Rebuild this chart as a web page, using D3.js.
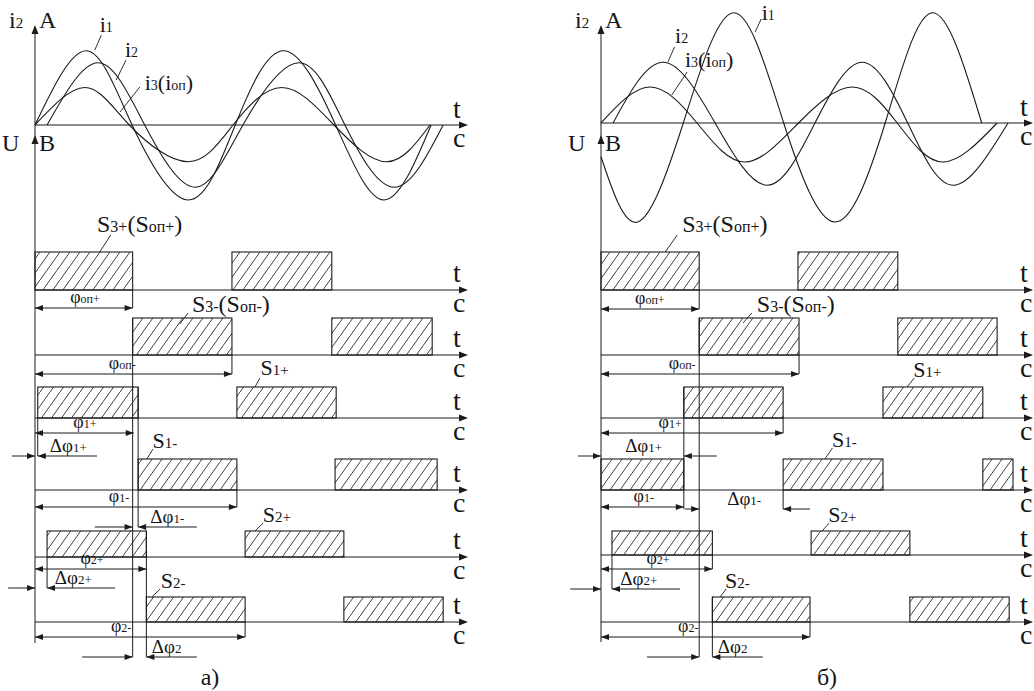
<!DOCTYPE html>
<html>
<head>
<meta charset="utf-8">
<script src="https://cdn.jsdelivr.net/npm/d3@7"></script>
<style>
body{margin:0;background:#fff}
svg{display:block}
</style>
</head>
<body>
<svg id="chart" width="1034" height="691"></svg>
<script>
// ---- data (angles in electrical degrees, currents in relative units) ----
const captions = ["а)", "б)"];

// currents: [angle, value]
const i1A = [[0,0],[93,0.99],[177,0],[280,-1.0],[365,0],[453,0.99],[548,0],[636,-1.0],[722,0]];
const i2A = [[22,0],[115,0.83],[200,0],[292,-0.83],[379,0],[481,0.83],[565,0],[655,-0.83],[744,0]];
const i3A = [[0,0],[91,0.5],[172,0],[279,-0.49],[361,0],[450,0.5],[545,0],[641,-0.49],[720,0]];
const i1B = [[0,-0.45],[67,-1.32],[150,0],[242,1.47],[333,0],[427,-1.32],[518,0],[604,1.47],[694,0]];
const i2B = [[22,0],[113,0.81],[208,0],[303,-0.83],[390,0],[476,0.81],[559,0],[642,-0.83],[742,0]];
const i3B = [[0,0],[89,0.48],[175,0],[262,-0.52],[360,0],[458,0.48],[540,0],[623,-0.52],[722,0]];

// switch pulses per row: S3+, S3-, S1+, S1-, S2+, S2-
const pulsesA = [
  [[0,178],[359,541]],
  [[178,359],[541,724]],
  [[5,188],[368,549]],
  [[188,368],[547,733]],
  [[22,203],[383,563]],
  [[203,383],[563,744]]
];
const pulsesB = [
  [[0,179],[359,541]],
  [[179,361],[541,722]],
  [[151,332],[514,696]],
  [[0,151],[332,514],[696,751]],
  [[20,203],[383,563]],
  [[203,381],[563,744]]
];

// phase spans [sub, from, to]
const phiA = [["оп+",0,178],["оп-",0,359],["1+",0,180],["1-",0,368],["2+",0,203],["2-",0,383]];
const phiB = [["оп+",0,179],["оп-",0,361],["1+",0,332],["1-",0,151],["2+",0,203],["2-",0,381]];
// phase differences [sub, from, to]
const dphiA = [["1+",0,5],["1-",178,188],["2+",0,22],["2",178,203]];
const dphiB = [["1+",0,151],["1-",179,332],["2+",0,20],["2",179,203]];

// ---- layout ----
const layoutA = {x0:35, xEnd:468, zeroY:125, axisBottom:643, tX:453, captionX:210,
  rows:[290,355,418,490,557,622], heights:[38,37,31,31,26,25],
  spanY:[308,374,433,507,569,637], spanLx:[91,159,91,153,104,157],
  deltaY:[456,527,588,657], tails:[[-42,113],[109,295],[-49,146],[86,295]], deltaLx:[27,210,36,213],
  guides:[[178,290,308],[178,318,657],[188,387,527],[203,531,657],[5,418,456],[22,557,588],[359,355,374],[368,490,507],[383,622,637]],
  notes:[
    {p:[["i",22],["1",14]], at:[118,32], ld:[109,50,121,35]},
    {p:[["i",22],["2",14]], at:[164,57], ld:[148,80,166,60]},
    {p:[["i",22],["3",14],["(",22],["i",22],["оп",14],[")",22]], at:[200,90], ld:[155,112,191,87]},
    {p:[["S",24],["3+",16],["(",24],["S",24],["оп+",16],[")",24]], at:[113,232], ld:[118,252,138,235]},
    {p:[["S",24],["3-",16],["(",24],["S",24],["оп-",16],[")",24]], at:[286,312], ld:[264,324,279,313]},
    {p:[["S",22],["1+",15]], at:[411,375], ld:[401,387,410,378]},
    {p:[["S",22],["1-",15]], at:[214,448], ld:[204,459,215,449]},
    {p:[["S",22],["2+",15]], at:[415,522], ld:[401,531,416,523]},
    {p:[["S",22],["2-",15]], at:[229,588], ld:[213,597,228,589]}
  ]};
const layoutB = {x0:601, xEnd:1033, zeroY:123, axisBottom:642, tX:1020, captionX:827,
  rows:[290,355,418,490,555,622], heights:[38,37,31,31,24,25],
  spanY:[309,374,433,507,569,637], spanLx:[89,148,126,78,104,159],
  deltaY:[456,509,589,657], tails:[[-42,211],[153,381],[-56,144],[84,295]], deltaLx:[44,230,35,213],
  guides:[[179,290,309],[179,318,657],[151,387,509],[332,418,433],[332,490,509],[361,355,374],[203,555,569],[203,597,657],[20,555,589],[381,622,637]],
  notes:[
    {p:[["i",22],["1",14]], at:[293,20], ld:[281,32,292,19]},
    {p:[["i",22],["2",14]], at:[135,43], ld:[122,62,134,47]},
    {p:[["i",22],["3",14],["(",22],["i",22],["оп",14],[")",22]], at:[153,67], ld:[129,95,157,72]},
    {p:[["S",24],["3+",16],["(",24],["S",24],["оп+",16],[")",24]], at:[148,232], ld:[117,252,139,235]},
    {p:[["S",24],["3-",16],["(",24],["S",24],["оп-",16],[")",24]], at:[284,312], ld:[259,323,275,313]},
    {p:[["S",22],["1+",15]], at:[569,377], ld:[558,387,571,378]},
    {p:[["S",22],["1-",15]], at:[421,447], ld:[408,459,422,448]},
    {p:[["S",22],["2+",15]], at:[414,522], ld:[403,531,416,523]},
    {p:[["S",22],["2-",15]], at:[226,588], ld:[217,597,228,589]}
  ]};

const ink = "#1b1b1b";
const serif = "'Liberation Serif', 'Times New Roman', 'DejaVu Serif', serif";
const svg = d3.select("#chart");

const pat = svg.append("defs").append("pattern")
  .attr("id","hatch").attr("patternUnits","userSpaceOnUse")
  .attr("width",10).attr("height",14);
pat.append("path").attr("d","M-1,15.4 L11,-1.4")
  .attr("stroke","#2a2a2a").attr("stroke-width",0.9).attr("fill","none");

function arrow(g, x, y, dir, len, hw) {
  len = len || 9; hw = hw || 3.5;
  let d;
  if (dir === "r") d = `M${x},${y}L${x-len},${y-hw}L${x-len},${y+hw}Z`;
  else if (dir === "l") d = `M${x},${y}L${x+len},${y-hw}L${x+len},${y+hw}Z`;
  else d = `M${x},${y}L${x-hw},${y+len}L${x+hw},${y+len}Z`;
  g.append("path").attr("d", d).attr("fill", ink);
}
function line(g, x1, y1, x2, y2, w) {
  g.append("line").attr("x1",x1).attr("y1",y1).attr("x2",x2).attr("y2",y2)
    .attr("stroke",ink).attr("stroke-width",w || 1);
}
function label(g, x, y, parts, anchor) {
  const t = g.append("text").attr("x",x).attr("y",y)
    .attr("font-family", serif).attr("fill", "#161616")
    .attr("text-anchor",anchor || "start");
  parts.forEach(p => t.append("tspan").attr("font-size",p[1]).text(p[0]));
  return t;
}

function drawPanel(L, curves, pulses, phis, dphis, caption) {
  const g = svg.append("g");
  const x = d3.scaleLinear().domain([0,720]).range([L.x0, L.x0 + 395]);
  const y = d3.scaleLinear().domain([-1,1]).range([L.zeroY + 75, L.zeroY - 75]);
  const curve = d3.line().x(d => x(d[0])).y(d => y(d[1])).curve(d3.curveNatural);

  // main vertical axis
  line(g, L.x0, 27, L.x0, L.axisBottom);
  arrow(g, L.x0, 25, "u");
  arrow(g, L.x0, 135, "u");
  label(g, L.x0 - 26, 28, [["i",24],["2",15]]);
  label(g, L.x0 + 4, 28, [["А",24]]);
  label(g, L.x0 - 33, 151, [["U",24]]);
  label(g, L.x0 + 4, 151, [["В",24]]);

  // time axis of currents
  line(g, L.x0, L.zeroY, L.xEnd - 2, L.zeroY);
  arrow(g, L.xEnd, L.zeroY, "r");
  label(g, L.tX, L.zeroY - 7, [["t",28]]);
  label(g, L.tX, L.zeroY + 22, [["с",28]]);

  curves.forEach(c => g.append("path").attr("d", curve(c))
    .attr("fill","none").attr("stroke",ink).attr("stroke-width",1.1));

  // pulse rows
  pulses.forEach((row, r) => {
    const base = L.rows[r], h = L.heights[r];
    line(g, L.x0, base, L.xEnd - 2, base);
    arrow(g, L.xEnd, base, "r");
    label(g, L.tX, base - 8, [["t",28]]);
    label(g, L.tX, base + 22, [["с",28]]);
    row.forEach(p => g.append("rect")
      .attr("x", x(p[0])).attr("y", base - h)
      .attr("width", x(p[1]) - x(p[0])).attr("height", h)
      .attr("fill","url(#hatch)").attr("stroke",ink).attr("stroke-width",1.1));
  });

  // guide lines
  L.guides.forEach(d => line(g, x(d[0]), d[1], x(d[0]), d[2]));

  // phase spans
  phis.forEach((d, i) => {
    const yy = L.spanY[i], xa = x(d[1]), xb = x(d[2]);
    line(g, xa, yy, xb, yy);
    arrow(g, xa, yy, "l", 8, 3);
    arrow(g, xb, yy, "r", 8, 3);
    label(g, x(L.spanLx[i]), yy - 5, [["φ",18],[d[0],12]], "middle");
  });

  // phase differences
  dphis.forEach((d, i) => {
    const yy = L.deltaY[i], xa = x(d[1]), xb = x(d[2]);
    line(g, x(L.tails[i][0]), yy, xa, yy);
    line(g, xb, yy, x(L.tails[i][1]), yy);
    arrow(g, xa, yy, "r", 8, 3);
    arrow(g, xb, yy, "l", 8, 3);
    label(g, x(L.deltaLx[i]), yy - 4, [["Δφ",19],[d[0],13]]);
  });

  // curve and pulse labels with leaders
  L.notes.forEach(n => {
    line(g, x(n.ld[0]), n.ld[1], x(n.ld[2]), n.ld[3], 0.9);
    label(g, x(n.at[0]), n.at[1], n.p);
  });

  label(g, L.captionX, 685, [[caption,24]], "middle");
}

drawPanel(layoutA, [i1A, i2A, i3A], pulsesA, phiA, dphiA, captions[0]);
drawPanel(layoutB, [i1B, i2B, i3B], pulsesB, phiB, dphiB, captions[1]);
</script>
</body>
</html>
